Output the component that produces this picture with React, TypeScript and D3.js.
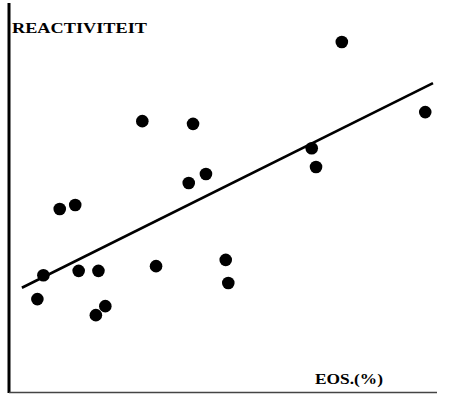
import React from 'react';
import * as d3 from 'd3';

// EOS (%) on x, reactivity on y
const eos = [3.3, 4.0, 5.9, 7.7, 8.1, 10.1, 10.4, 11.2, 15.5, 17.1, 20.9, 21.4, 22.9, 25.2, 25.5, 35.2, 35.7, 38.7, 48.4];
const reactiviteit = [23.7, 29.8, 46.7, 47.7, 30.9, 19.6, 30.9, 21.9, 69.1, 32.1, 53.3, 68.4, 55.6, 33.7, 27.8, 62.2, 57.4, 89.3, 71.4];
// trend line end points
const fitX = [1.5, 49.3];
const fitY = [26.6, 78.8];

const W = 449;
const H = 394;

const App = () => {
  const x = d3.scaleLinear().domain([0, 50]).range([9, 439]);
  const y = d3.scaleLinear().domain([0, 100]).range([392, 0]);

  const line = d3.line<number>()
    .x((d, i) => x(fitX[i]))
    .y(d => y(d));

  const font = '"Liberation Serif", "DejaVu Serif", serif';

  return (
    <svg width={W} height={H} style={{ position: 'absolute', left: 0, top: 0, background: '#fff' }}>
      {/* axes */}
      <line x1={9} x2={9} y1={3} y2={393} stroke="#000" strokeWidth={3} />
      <line x1={9} x2={437} y1={392.5} y2={392.5} stroke="#444" strokeWidth={1.5} />

      <path d={line(fitY) || ''} fill="none" stroke="#000" strokeWidth={2.6} />

      {eos.map((d, i) => (
        <circle key={i} cx={x(d)} cy={y(reactiviteit[i])} r={6.3} fill="#000" />
      ))}

      <text x={12} y={33} fontFamily={font} fontWeight="bold" fontSize={15}
        textLength={135} lengthAdjust="spacingAndGlyphs">REACTIVITEIT</text>
      <text x={315} y={384} fontFamily={font} fontWeight="bold" fontSize={15}
        textLength={68} lengthAdjust="spacingAndGlyphs">EOS.(%)</text>
    </svg>
  );
};

export default App;
